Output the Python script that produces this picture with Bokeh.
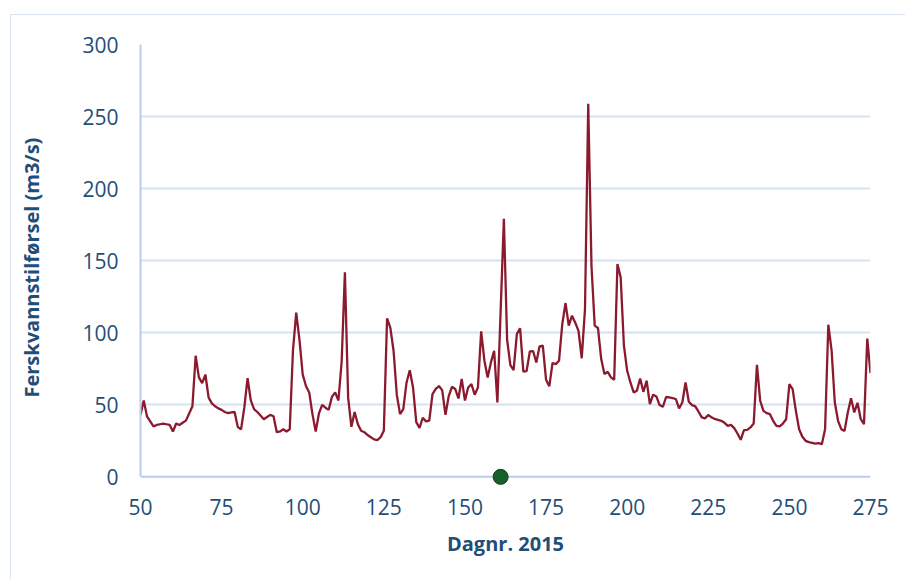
from bokeh.plotting import figure
from bokeh.models import Range1d, FixedTicker, ColumnDataSource, Span
from bokeh.embed import file_html
from bokeh.resources import INLINE

# ---- data ----
days = list(range(50, 276))
flow = [
    43, 53, 42, 38.5, 35, 36, 36.5, 37, 36.5, 36,            # 50-59
    31.5, 37, 36, 37.5, 39, 44, 49, 84, 69, 65,              # 60-69
    71, 55, 51, 49, 47.5, 46.5, 45, 44.2, 44.7, 45,          # 70-79
    34.5, 33, 48, 68.5, 53, 47, 45, 42.5, 40, 41.5,          # 80-89
    43, 42, 31, 31.5, 33, 31.5, 33, 88, 114, 95,             # 90-99
    71, 63, 58.6, 43.5, 31.5, 44, 50, 48, 46.5, 55.5,        # 100-109
    58.6, 53, 80, 142, 55, 34.7, 45, 36.5, 32, 31,           # 110-119
    29, 27.5, 26, 25.5, 27.5, 32, 110, 103.5, 87.5, 57,      # 120-129
    43.5, 47, 65.5, 74, 62, 38, 34, 41, 38.5, 39,            # 130-139
    57.4, 61, 63, 60, 43, 56, 62.5, 61, 54.4, 68,            # 140-149
    53, 62, 64.4, 57, 62, 101, 80.6, 69, 79.4, 87.5,         # 150-159
    51.6, 115, 179, 95, 77.5, 74, 99, 103, 73, 73.4,         # 160-169
    87, 87.3, 79.4, 90.6, 91, 67.4, 62.8, 79, 78.2, 80.6,    # 170-179
    106, 120.6, 105, 111.8, 107, 101.3, 82.3, 116.4, 258.8, 146.5,  # 180-189
    104.9, 103.3, 81.7, 71.3, 72.9, 69, 67.4, 147.7, 138.4, 91,     # 190-199
    73.6, 65.5, 58.6, 59.7, 68.3, 59, 66.7, 50.5, 57, 55.8,  # 200-209
    49.8, 48.6, 55.4, 55.1, 54.7, 54, 47.5, 51.6, 65.5, 52.1,  # 210-219
    49.8, 48.9, 45.2, 41.3, 40.6, 42.9, 41.3, 40.2, 39.5, 38.9,  # 220-229
    37.5, 35.4, 36.1, 33.8, 30.1, 25.7, 32.4, 32.6, 34.3, 37,  # 230-239
    77.8, 52.8, 45.8, 44.2, 43.5, 38.9, 35.4, 35, 37, 40,    # 240-249
    64.4, 60.9, 45.8, 33, 27.8, 25, 24.1, 23.6, 23.1, 23.4,  # 250-259
    22.7, 33.1, 105.6, 88, 51.6, 38.9, 33.1, 31.9, 44.7, 54.6,  # 260-269
    44.7, 51.4, 40, 36.6, 96, 72,                            # 270-275
]
marker_day = [161]
marker_value = [0]

x_ticks = [50, 75, 100, 125, 150, 175, 200, 225, 250, 275]
y_ticks = [0, 50, 100, 150, 200, 250, 300]
x_title = "Dagnr. 2015"
y_title = "Ferskvannstilførsel  (m3/s)"

# ---- styling ----
TEXT = "#1f4e79"
GRID = "#d6e2f3"
AXIS = "#b7cdec"
LINE = "#8b1a2e"
FONT = "Open Sans"

# y range starts a little below zero so the zero-marker is not clipped;
# the baseline at y = 0 is drawn as a span.
p = figure(width=895, height=565, output_backend="svg", toolbar_location=None,
           x_range=Range1d(50, 275), y_range=Range1d(-6, 300),
           min_border_left=129, min_border_right=36,
           min_border_top=29, min_border_bottom=95)
p.margin = (14, 0, 0, 10)
p.styles = {"border-top": "1.5px solid #d9e3f2", "border-left": "1.5px solid #d9e3f2"}
p.outline_line_color = None
p.background_fill_color = "white"
p.border_fill_color = "white"

p.xgrid.grid_line_color = None
p.ygrid.grid_line_color = GRID
p.ygrid.grid_line_width = 2
p.ygrid.ticker = FixedTicker(ticks=y_ticks[1:])
p.add_layout(Span(location=0, dimension="width", line_color=AXIS,
                  line_width=2, level="underlay"))

src = ColumnDataSource(dict(day=days, flow=flow))
p.line("day", "flow", source=src, line_color=LINE, line_width=2.3)
p.scatter(marker_day, marker_value, size=15, fill_color="#17602c",
          line_color="#0e3f1c", line_width=1)

for ax in (p.xaxis[0], p.yaxis[0]):
    ax.axis_line_color = AXIS
    ax.axis_line_width = 2
    ax.major_tick_line_color = None
    ax.minor_tick_line_color = None
    ax.major_label_text_font = FONT
    ax.major_label_text_font_size = "21px"
    ax.major_label_text_color = TEXT
    ax.axis_label_text_font = FONT
    ax.axis_label_text_font_size = "20px"
    ax.axis_label_text_font_style = "bold"
    ax.axis_label_text_color = TEXT

p.xaxis.axis_line_color = None
p.yaxis.bounds = (0, 300)
p.xaxis.ticker = FixedTicker(ticks=x_ticks)
p.yaxis.ticker = FixedTicker(ticks=y_ticks)
p.xaxis.axis_label = x_title
p.yaxis.axis_label = y_title
p.xaxis.major_label_standoff = 7
p.yaxis.major_label_standoff = 16
p.xaxis.axis_label_standoff = 12
p.yaxis.axis_label_standoff = 34

open("out.html", "w").write(file_html(p, INLINE))
